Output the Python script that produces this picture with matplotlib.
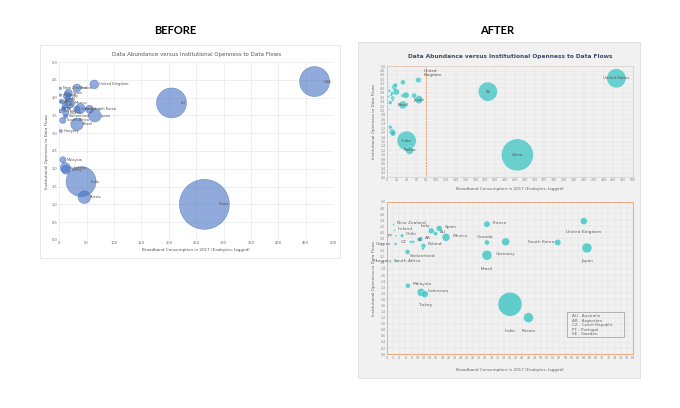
import numpy as np
import matplotlib.pyplot as plt
from matplotlib.patches import Rectangle

# country data: broadband consumption (x), openness (y), bubble weight (radius-ish)
names = ["New Zealand", "Ireland", "PT", "Greece", "Hungary", "Chile", "CZ", "SE",
         "South Africa", "AR", "Poland", "Switzerland", "Italy", "AU", "Spain", "Mexico",
         "France", "Canada", "Brazil", "Germany", "South Korea", "United Kingdom", "Japan",
         "Malaysia", "Indonesia", "Turkey", "India", "Russia"]
xs = [2.2, 2.5, 3.0, 2.8, 3.0, 4.9, 7.8, 8.6, 6.7, 10.9, 11.9, 11.7, 14.4, 15.8, 17.0, 19.2,
      32.5, 32.5, 32.5, 38.6, 55.5, 64.0, 65.0, 6.8, 11.1, 12.3, 40.0, 46.0]
ys = [4.26, 4.07, 3.89, 3.62, 3.06, 3.89, 3.69, 3.69, 3.36, 3.78, 3.56, 3.47, 4.05, 3.96, 4.13, 3.84,
      4.27, 3.67, 3.25, 3.69, 3.67, 4.37, 3.49, 2.25, 2.03, 1.97, 1.64, 1.2]
weights = [1.0, 1.0, 1.0, 1.5, 1.2, 1.8, 1.5, 1.5, 2.5, 2.5, 2.5, 1.5, 3.0, 2.2, 3.0, 4.0,
           3.2, 2.6, 5.0, 4.0, 3.2, 3.5, 5.0, 2.5, 4.0, 3.5, 12.0, 5.0]

big_names = ["EU", "United States", "China"]
big_x = [205, 466, 265]
big_y = [3.85, 4.45, 1.0]
big_w = [12.0, 12.0, 20.0]

legend_lines = ["AU - Australia", "AR - Argentina", "CZ - Czech Republic", "PT - Portugal", "SE - Sweden"]

all_x = np.array(xs + big_x)
all_y = np.array(ys + big_y)
all_w = np.array(weights + big_w)
all_n = names + big_names

def sizes(w, scale):
    return (2 * w * scale * 0.72) ** 2

fig = plt.figure(figsize=(6.8, 4.08), dpi=100)
fig.patch.set_facecolor("white")
fig.text(175 / 680, 1 - 30 / 408, "BEFORE", ha="center", va="center", fontsize=8, fontweight="bold", family="Lato")
fig.text(497 / 680, 1 - 30 / 408, "AFTER", ha="center", va="center", fontsize=8, fontweight="bold", family="Lato")

# panels
fig.patches.append(Rectangle((40 / 680, 1 - 258 / 408), 300 / 680, 213 / 408, transform=fig.transFigure,
                             facecolor="white", edgecolor="#e4e4e4", lw=0.6, zorder=-10))
fig.patches.append(Rectangle((358 / 680, 1 - 378 / 408), 282 / 680, 336 / 408, transform=fig.transFigure,
                             facecolor="#f1f1f1", edgecolor="#dddddd", lw=0.6, zorder=-10))

small = dict(fontsize=2.6, color="#555555")

# BEFORE chart
ax0 = fig.add_axes([0.087, 0.412, 0.403, 0.436])
ax0.set_facecolor("none")
ax0.scatter(all_x, all_y, s=sizes(all_w, 1.25), color="#4472c4", alpha=0.6, edgecolors="#3a64b0", lw=0.4, zorder=3)
for n, x, y, w in zip(all_n, all_x, all_y, all_w):
    label = "USA" if n == "United States" else n
    ax0.text(x + w * 1.1 + 4, y, label, va="center", **small)
ax0.set_xlim(0, 500)
ax0.set_ylim(0, 5)
ax0.set_xticks(np.arange(0, 501, 50))
ax0.set_yticks(np.arange(0, 5.01, 0.5))
ax0.grid(color="#e3e3e3", lw=0.4)
ax0.set_axisbelow(True)
for s in ax0.spines.values():
    s.set_visible(False)
ax0.tick_params(length=0, labelsize=2.6, labelcolor="#666666", pad=1)
ax0.set_title("Data Abundance versus Institutional Openness to Data Flows", fontsize=4, color="#555555", pad=4)
ax0.set_xlabel("Broadband Consumption in 2017 (Exabytes, logged)", fontsize=3, color="#555555", labelpad=2)
ax0.set_ylabel("Institutional Openness to Data Flows", fontsize=3, color="#555555", labelpad=2)

teal = "#3cc4c4"

# AFTER top chart
ax1 = fig.add_axes([0.569, 0.566, 0.362, 0.272])
ax1.set_facecolor("#f1f1f1")
ax1.scatter(all_x, all_y, s=sizes(all_w, 0.8), color=teal, alpha=0.75, edgecolors="white", lw=0.3, zorder=3)
for n in ["United States", "EU", "China", "India", "Russia", "Japan", "Brazil"]:
    i = all_n.index(n)
    ax1.text(all_x[i], all_y[i], n, ha="center", va="center", fontsize=2.8, color="#555555", zorder=4)
i = all_n.index("United Kingdom")
ax1.text(all_x[i] + 10, all_y[i] + 0.2, "United\nKingdom", fontsize=3, color="#555555", linespacing=0.9)
ax1.add_patch(Rectangle((0, 0), 80, 5, fill=False, edgecolor="#f0a070", lw=0.7, ls=(0, (2, 1)), zorder=2))
ax1.set_xlim(0, 500)
ax1.set_ylim(0, 5)
ax1.set_xticks(np.arange(0, 501, 20))
ax1.set_yticks(np.round(np.arange(0, 5.01, 0.2), 1))
ax1.grid(color="#e6e2de", lw=0.3)
ax1.set_axisbelow(True)
for s in ax1.spines.values():
    s.set_color("#d8d0c8")
    s.set_linewidth(0.5)
ax1.tick_params(length=0, labelsize=2.3, labelcolor="#888888", pad=1)
ax1.set_title("Data Abundance versus Institutional Openness to Data Flows", fontsize=4.2, color="#3d4a6b",
              fontweight="bold", pad=6)
ax1.set_xlabel("Broadband Consumption in 2017 (Exabytes, logged)", fontsize=3, color="#666666", labelpad=3)
ax1.set_ylabel("Institutional Openness to Data Flows", fontsize=3, color="#666666", labelpad=3)

# AFTER bottom chart (zoom on x < 80)
ax2 = fig.add_axes([0.569, 0.132, 0.362, 0.373])
ax2.set_facecolor("#f1f1f1")
ax2.scatter(xs, ys, s=sizes(np.array(weights), 1.0), color=teal, alpha=0.8, edgecolors="white", lw=0.3, zorder=3)
for n, x, y, w in zip(names, xs, ys, weights):
    if n in ["India", "Russia", "Brazil", "Turkey", "United Kingdom", "Japan", "Germany", "South Africa", "Switzerland"]:
        ax2.text(x, y - 0.06 * w - 0.08, n, ha="center", va="top", fontsize=3.2, color="#666666")
    elif n in ["Canada", "Italy"]:
        ax2.text(x - 0.5, y + 0.1, n, ha="center" if n == "Canada" else "right", va="bottom", fontsize=3.2, color="#666666")
    elif n in ["South Korea", "Greece", "CZ", "PT", "Hungary"]:
        ax2.text(x - 1.2, y, n, ha="right", va="center", fontsize=3.2, color="#666666")
    else:
        ax2.text(x + 0.6 + w * 0.35, y + 0.05, n, ha="left", va="center", fontsize=3.2, color="#666666")
ax2.add_patch(Rectangle((58.5, 0.55), 18.5, 0.85, facecolor="none", edgecolor="#999999", lw=0.5, zorder=4))
for k, t in enumerate(legend_lines):
    ax2.text(60, 1.25 - k * 0.15, t, fontsize=3, color="#666666", va="center", zorder=5)
ax2.set_xlim(0, 80)
ax2.set_ylim(0, 5)
ax2.set_xticks(np.arange(0, 81, 2))
ax2.set_yticks(np.round(np.arange(0, 5.01, 0.2), 1))
ax2.grid(color="#e6e2de", lw=0.3)
ax2.set_axisbelow(True)
for s in ax2.spines.values():
    s.set_color("#f0a070")
    s.set_linewidth(0.6)
    s.set_linestyle((0, (2, 1)))
ax2.tick_params(length=0, labelsize=2.3, labelcolor="#888888", pad=1)
ax2.set_xlabel("Broadband Consumption in 2017 (Exabytes, logged)", fontsize=3, color="#666666", labelpad=6)
ax2.set_ylabel("Institutional Openness to Data Flows", fontsize=3, color="#666666", labelpad=3)

fig.savefig("out.png", dpi=100)
